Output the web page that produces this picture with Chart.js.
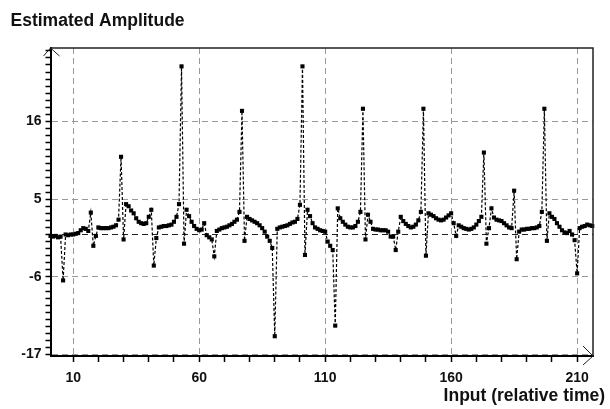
<!DOCTYPE html>
<html><head><meta charset="utf-8">
<script src="https://cdn.jsdelivr.net/npm/chart.js@4"></script>
<style>html,body{margin:0;padding:0;background:#fff;}canvas{display:block;}</style>
</head><body>
<canvas id="c" width="610" height="409"></canvas>
<script>
const time = [1,2,3,4,5,6,7,8,9,10,11,12,13,14,15,16,17,18,19,20,21,22,23,24,25,26,27,28,29,30,
31,32,33,34,35,36,37,38,39,40,41,42,43,44,45,46,47,48,49,50,51,52,53,54,55,56,57,58,59,60,
61,62,63,64,65,66,67,68,69,70,71,72,73,74,75,76,77,78,79,80,81,82,83,84,85,86,87,88,89,90,
91,92,93,94,95,96,97,98,99,100,101,102,103,104,105,106,107,108,109,110,111,112,113,114,115,116,117,118,119,120,
121,122,123,124,125,126,127,128,129,130,131,132,133,134,135,136,137,138,139,140,141,142,143,144,145,146,147,148,149,150,
151,152,153,154,155,156,157,158,159,160,161,162,163,164,165,166,167,168,169,170,171,172,173,174,175,176,177,178,179,180,
181,182,183,184,185,186,187,188,189,190,191,192,193,194,195,196,197,198,199,200,201,202,203,204,205,206,207,208,209,210,
211,212,213,214,215,216];
const amplitude = [-0.2,-0.3,-0.2,-0.4,-0.3,-6.5,0.0,-0.1,0.0,0.0,
0.1,0.2,0.6,0.9,0.8,0.5,3.1,-1.6,-0.2,1.0,
0.9,0.9,0.9,0.9,1.0,1.1,1.3,2.1,11.0,-0.7,
4.3,4.0,3.4,3.0,2.3,1.8,1.6,1.5,1.6,2.5,
3.5,-4.4,-0.5,1.0,1.1,1.2,1.2,1.3,1.4,1.8,
2.5,4.3,23.8,-1.3,3.5,2.6,1.8,1.2,0.8,0.6,
0.7,1.6,-0.1,-0.4,-0.7,-3.1,0.5,0.7,0.9,1.0,
1.1,1.3,1.5,1.8,2.1,3.2,17.5,-0.9,2.5,2.2,
2.0,1.8,1.6,1.3,0.9,0.4,-0.3,-0.9,-1.9,-14.4,
0.8,1.0,1.1,1.2,1.3,1.5,1.7,1.8,2.2,4.2,
23.8,-2.9,3.5,2.6,1.6,1.0,0.8,0.6,0.5,0.4,
-1.0,-1.6,-2.2,-12.9,3.7,2.3,1.8,1.4,1.1,1.0,
1.0,1.2,1.8,3.2,17.8,-0.7,2.8,1.8,0.8,0.7,
0.7,0.6,0.6,0.6,0.4,-0.3,-0.3,-2.2,0.4,2.5,
1.9,1.5,1.2,1.0,1.1,1.4,2.0,3.2,17.8,-3.0,
3.0,2.8,2.6,2.3,2.1,2.0,2.1,2.4,2.7,3.0,
1.6,-0.2,1.3,1.1,0.9,0.8,0.7,0.8,1.0,1.4,
1.9,2.5,11.6,-1.3,0.9,3.7,2.4,2.1,2.0,1.9,
1.6,1.3,1.0,0.9,6.2,-3.5,0.4,0.7,0.7,0.8,
0.8,0.9,0.9,1.0,1.2,3.2,17.8,-0.9,3.0,2.5,
2.2,1.6,1.1,0.6,0.3,0.2,0.5,0.0,-0.8,-5.5,
0.9,1.1,1.2,1.4,1.3,1.2];
const xTickLabels = [10,60,110,160,210];
const yTickLabels = [-17,-6,5,16];
const xMinorTicks = [10,20,30,40,50,60,70,80,90,100,110,120,130,140,150,160,170,180,190,200,210];
const yMinorTicks = [-17,-16,-15,-14,-13,-12,-11,-10,-9,-8,-7,-6,-5,-4,-3,-2,-1,0,1,2,3,4,5,6,7,8,9,10,11,12,13,14,15,16,17,18,19,20,21,22,23,24,25,26];

const FONT = 'Arial, "Liberation Sans", sans-serif';

const decor = {
  id: 'decor',
  afterDraw(chart) {
    const {ctx, chartArea: {left, right, top, bottom}} = chart;
    ctx.save();
    ctx.strokeStyle = '#222';
    ctx.lineWidth = 1.5;
    ctx.beginPath();
    ctx.moveTo(left, top); ctx.lineTo(right, top); ctx.lineTo(right, bottom);
    ctx.stroke();
    ctx.lineWidth = 1;
    ctx.beginPath();
    ctx.moveTo(left - 7, top + 8); ctx.lineTo(left, top); ctx.lineTo(left + 9, top + 8);
    ctx.stroke();
    ctx.beginPath();
    ctx.moveTo(right - 10, bottom - 10); ctx.lineTo(right, bottom); ctx.lineTo(right - 10, bottom + 9);
    ctx.stroke();
    ctx.font = 'bold 17.5px ' + FONT;
    ctx.fillStyle = '#111';
    ctx.textAlign = 'right';
    ctx.textBaseline = 'alphabetic';
    ctx.fillText('Input (relative time)', 605, 401);
    ctx.restore();
  }
};

new Chart(document.getElementById('c'), {
  type: 'line',
  data: {
    datasets: [{
      data: time.map((t, i) => ({x: t, y: amplitude[i]})),
      borderColor: '#000',
      borderWidth: 1.2,
      borderDash: [3, 2],
      pointStyle: 'rect',
      pointRadius: 2.9,
      pointBackgroundColor: '#000',
      pointBorderWidth: 0,
      tension: 0,
      clip: false
    }]
  },
  options: {
    responsive: false,
    animation: false,
    devicePixelRatio: 1,
    layout: {padding: {left: 10.5, right: 17, top: 0, bottom: 0}},
    plugins: {
      legend: {display: false},
      tooltip: {enabled: false},
      title: {
        display: true, text: 'Estimated Amplitude', align: 'start', color: '#111',
        font: {family: FONT, size: 17.5, weight: 'bold'},
        padding: {top: 11, bottom: 16}
      }
    },
    scales: {
      x: {
        type: 'linear', min: 1, max: 216.3,
        afterBuildTicks: s => { s.ticks = xMinorTicks.map(v => ({value: v})); },
        afterFit: s => { s.height = 53; },
        ticks: {
          autoSkip: false, maxRotation: 0, padding: 8, color: '#111',
          font: {family: FONT, size: 14, weight: 'bold'},
          callback: v => xTickLabels.includes(v) ? String(v) : ''
        },
        grid: {
          color: c => (c.tick && xTickLabels.includes(c.tick.value)) ? '#999' : 'rgba(0,0,0,0)',
          lineWidth: 1, tickColor: '#000', tickLength: 6, tickWidth: 1.5
        },
        border: {display: true, color: '#000', width: 2, dash: [6, 4]}
      },
      y: {
        type: 'linear', min: -17.2, max: 26.4,
        afterBuildTicks: s => { s.ticks = yMinorTicks.map(v => ({value: v})); },
        afterFit: s => { s.width = 40; },
        ticks: {
          autoSkip: false, padding: 4, color: '#111',
          font: {family: FONT, size: 14, weight: 'bold'},
          callback: v => yTickLabels.includes(v) ? String(v) : ''
        },
        grid: {
          color: c => !c.tick ? 'rgba(0,0,0,0)' : (c.tick.value === 0 ? '#222' : (yTickLabels.includes(c.tick.value) ? '#999' : 'rgba(0,0,0,0)')),
          lineWidth: 1, tickColor: '#000', tickLength: 5, tickWidth: 1.5
        },
        border: {display: true, color: '#000', width: 2, dash: [6, 4]}
      }
    }
  },
  plugins: [decor]
});
</script>
</body></html>
